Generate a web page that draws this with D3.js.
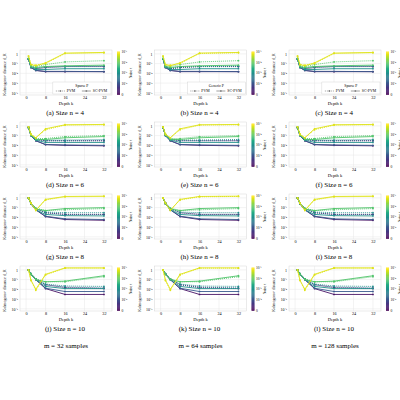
<!DOCTYPE html><html><head><meta charset="utf-8">
<script src="https://cdn.jsdelivr.net/npm/d3@7"></script>
<style>body{margin:0;background:#fff}svg{font-family:"Liberation Serif",serif}</style></head><body>
<svg id="c" width="400" height="400"></svg>
<script>
const depths=[1,2,4,8,16,32];
const noise=[0,1e-4,1e-3,1e-2,1e-1];
const xTicks=[0,8,16,24,32];
const yTicks=[1,1e-1,1e-2,1e-3,1e-4];
const sizes=[4,6,8,10];
const samples=[32,64,128];
const legendTitles=["Sparse P","Generic P","Sparse P"];
const row4=[[[0.3,0.05,0.03,0.04,0.05,0.05],[0.3,0.04,0.02,0.015,0.015,0.015]],
 [[0.3,0.05,0.03,0.04,0.05,0.05],[0.3,0.04,0.02,0.016,0.016,0.015]],
 [[0.3,0.05,0.035,0.05,0.05,0.06],[0.3,0.045,0.025,0.025,0.03,0.03]],
 [[0.35,0.06,0.05,0.08,0.15,0.2],[0.35,0.05,0.04,0.05,0.06,0.07]],
 [[0.6,0.08,0.07,0.1,1.1,1.3],[0.6,0.08,0.06,0.12,1.2,1.4]]];
const row6=[[[0.7,0.12,0.04,0.03,0.03,0.03],[0.7,0.1,0.03,0.012,0.01,0.009]],
 [[0.7,0.12,0.04,0.03,0.03,0.03],[0.7,0.1,0.03,0.012,0.011,0.01]],
 [[0.7,0.12,0.045,0.035,0.035,0.04],[0.7,0.1,0.035,0.02,0.02,0.02]],
 [[0.7,0.13,0.05,0.05,0.08,0.1],[0.7,0.11,0.04,0.04,0.06,0.08]],
 [[0.8,0.15,0.06,0.4,1.2,1.3],[0.8,0.13,0.06,0.5,1.3,1.4]]];
const row8=[[[1,0.3,0.08,0.03,0.02,0.02],[1,0.25,0.06,0.012,0.006,0.005]],
 [[1,0.3,0.08,0.03,0.02,0.02],[1,0.25,0.06,0.013,0.007,0.006]],
 [[1,0.3,0.08,0.035,0.03,0.03],[1,0.25,0.06,0.02,0.015,0.014]],
 [[1,0.3,0.09,0.05,0.06,0.08],[1,0.26,0.07,0.05,0.08,0.1]],
 [[1,0.3,0.06,0.6,1.3,1.4],[1,0.28,0.05,0.7,1.4,1.5]]];
const row10=[[[1,0.4,0.12,0.03,0.015,0.012],[1,0.35,0.1,0.012,0.003,0.003]],
 [[1,0.4,0.12,0.03,0.017,0.014],[1,0.35,0.1,0.013,0.006,0.006]],
 [[1,0.4,0.12,0.035,0.022,0.02],[1,0.35,0.1,0.02,0.012,0.012]],
 [[1,0.4,0.12,0.06,0.06,0.2],[1,0.35,0.1,0.06,0.07,0.25]],
 [[1,0.08,0.008,0.3,1.5,1.5],[1,0.09,0.01,0.35,1.6,1.6]]];
const rows=[row4,row6,row8,row10];
const colors=noise.map((d,i)=>d3.interpolateViridis(0.05+i*0.225));

const svg=d3.select("#c");
const colW=134.5, pw=92, ph=45, rowH=72;
const letters="abcdefghijkl";
const sup=["⁻¹","⁻²","⁻³","⁻⁴"];
function tl(v){if(v===1)return "1";const e=Math.round(-Math.log10(v));return "10"+sup[e-1];}
rows.forEach((rd,r)=>{samples.forEach((m,c)=>{
  const ox=20+c*colW, oy=50+r*rowH;
  const g=svg.append("g").attr("transform",`translate(${ox},${oy})`);
  const x=d3.scaleLinear().domain([-2.5,35.3]).range([0,pw]);
  const y=d3.scaleLog().domain([6e-5,2.5]).range([ph,0]);
  g.append("rect").attr("width",pw).attr("height",ph).attr("fill","none").attr("stroke","#ccc").attr("stroke-width",0.4);
  xTicks.forEach(t=>g.append("line").attr("x1",x(t)).attr("x2",x(t)).attr("y2",ph).attr("stroke","#e6e6e6").attr("stroke-width",0.5));
  yTicks.forEach(t=>g.append("line").attr("y1",y(t)).attr("y2",y(t)).attr("x2",pw).attr("stroke","#e6e6e6").attr("stroke-width",0.5));
  g.append("g").attr("transform",`translate(0,${ph})`).call(d3.axisBottom(x).tickValues(xTicks).tickSize(0).tickPadding(1.5))
   .call(a=>{a.select(".domain").remove();a.selectAll("text").attr("font-size",4.2).attr("font-family","Liberation Serif")});
  g.append("g").call(d3.axisLeft(y).tickValues(yTicks).tickFormat(tl).tickSize(0).tickPadding(2))
   .call(a=>{a.select(".domain").remove();a.selectAll("text").attr("font-size",4).attr("font-family","Liberation Serif")});
  g.append("text").attr("x",pw/2).attr("y",ph+9.5).attr("text-anchor","middle").attr("font-size",4.5).text("Depth k");
  g.append("text").attr("transform",`translate(-14,${ph/2+2}) rotate(-90)`).attr("text-anchor","middle").attr("font-size",4).text("Kolmogorov distance d_K");
  const line=d3.line().x((d,i)=>x(depths[i])).y(d=>y(d));
  rd.forEach((pair,k)=>{pair.forEach((vals,s)=>{
    g.append("path").attr("d",line(vals)).attr("fill","none").attr("stroke",colors[k]).attr("stroke-width",0.9).attr("stroke-dasharray",s===0?"1,1":null);
    g.selectAll(null).data(vals).enter().append("circle").attr("cx",(d,i)=>x(depths[i])).attr("cy",d=>y(d)).attr("r",0.9).attr("fill",colors[k]);
  });});
  const cb=g.append("g").attr("transform",`translate(${pw+5},1.5)`);
  const cbh=ph-2;
  const cy=d3.scaleLinear().domain([0,4]).range([cbh,0]);
  const steps=d3.range(0,40);
  cb.selectAll(null).data(steps).enter().append("rect").attr("y",d=>cbh-(d+1)*cbh/40).attr("width",3).attr("height",cbh/40+0.3).attr("fill",d=>d3.interpolateViridis(d/39));
  const cbl=[0,1,2,3,4], cbt=["0","10⁻⁴","10⁻³","10⁻²","10⁻¹"];
  cbl.forEach((v,i)=>cb.append("text").attr("x",4.5).attr("y",cy(v)+1.3).attr("font-size",3.6).text(cbt[i]));
  cb.append("text").attr("transform",`translate(14.5,${cbh/2}) rotate(-90)`).attr("text-anchor","middle").attr("font-size",3.6).text("Noise τ");
  svg.append("text").attr("x",ox+x(16)).attr("y",oy+ph+20).attr("text-anchor","middle").attr("font-size",7).attr("font-weight","normal").text(`(${letters[r*3+c]}) Size n = ${sizes[r]}`);
  if(r===0){
    const lg=g.append("g").attr("transform",`translate(${x(-0.5)+28},${ph-13})`);
    lg.append("rect").attr("width",pw-x(-0.5)-29).attr("height",12).attr("fill","#fff").attr("stroke","#ccc").attr("stroke-width",0.4);
    lg.append("text").attr("x",29).attr("y",4.8).attr("text-anchor","middle").attr("font-size",3.8).text(legendTitles[c]);
    [["PVM","1,1",3],["SC-PVM",null,29]].forEach(([t,da,lx])=>{
      lg.append("line").attr("x1",lx).attr("x2",lx+9).attr("y1",9).attr("y2",9).attr("stroke","#888").attr("stroke-width",0.8).attr("stroke-dasharray",da);
      lg.append("circle").attr("cx",lx+4.5).attr("cy",9).attr("r",0.9).attr("fill","#888");
      lg.append("text").attr("x",lx+11).attr("y",10.3).attr("font-size",3.8).text(t);
    });
  }
});});
samples.forEach((m,c)=>svg.append("text").attr("x",20+c*colW+46).attr("y",348).attr("text-anchor","middle").attr("font-size",7).text(`m = ${m} samples`));
</script></body></html>
